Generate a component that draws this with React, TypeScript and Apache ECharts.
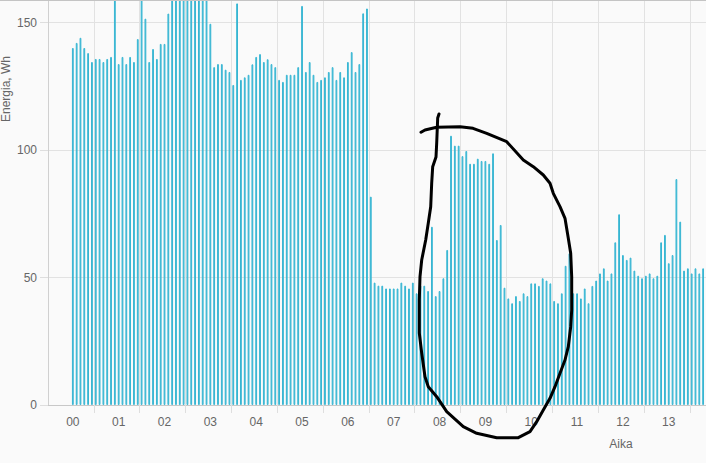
import React, { useEffect, useRef } from "react";
import * as echarts from "echarts";

// Energy per 5-minute slot, starting at 00:00
const energyWh: number[] = [
  // 00:00
  140, 142, 144, 140, 138, 134.5, 135.7, 135.7, 134.5, 135.7, 136.5, 168,
  // 01:00
  133.7, 136.5, 133.7, 136.5, 134.5, 143.5, 172, 151.5, 134.5, 139.6, 135.7, 141.6,
  // 02:00
  141.6, 153.5, 178, 186, 192, 184, 180, 188, 176, 183, 190, 175,
  // 03:00
  149.5, 132.5, 133.7, 133.7, 131.5, 130.6, 125.5, 157.5, 127.5, 128.5, 129.5, 133.6,
  // 04:00
  136.5, 137.6, 134.5, 135.6, 133.7, 132.5, 127.5, 126.7, 129.5, 129.5, 129.5, 132.5,
  // 05:00
  156.5, 130.6, 134.5, 129.5, 126.7, 127.5, 128.5, 130.6, 132.5, 127.5, 130.6, 128.5,
  // 06:00
  134.5, 138.4, 130.6, 133.7, 153.6, 155.5, 81.7, 48.0, 46.8, 46.8, 45.7, 45.7,
  // 07:00
  45.7, 45.7, 48.0, 46.8, 45.7, 48.0, 43.8, 46.8, 46.8, 44.7, 69.9, 42.7,
  // 08:00
  44.7, 49.7, 60.8, 105.6, 101.7, 101.7, 97.6, 99.6, 94.6, 94.6, 96.6, 95.7,
  // 09:00
  95.7, 94.6, 98.7, 64.7, 70.6, 46.0, 41.8, 39.9, 42.7, 40.8, 43.8, 42.7,
  // 10:00
  47.7, 47.7, 46.7, 49.7, 48.8, 47.7, 40.8, 39.9, 43.8, 54.6, 59.5, 43.8,
  // 11:00
  43.8, 41.8, 45.7, 39.9, 46.7, 48.8, 51.6, 53.6, 48.8, 51.6, 63.8, 74.8,
  // 12:00
  58.8, 56.9, 57.8, 52.7, 50.7, 49.7, 50.7, 51.6, 49.7, 50.7, 63.8, 66.7,
  // 13:00
  55.6, 58.8, 88.6, 71.9, 52.7, 53.6, 51.6, 53.6, 51.6, 53.6, 53.6, 53.0,
];

const hourLabels = [
  "00", "01", "02", "03", "04", "05", "06", "07", "08", "09", "10", "11",
  "12", "13", "14", "15", "16", "17", "18", "19", "20", "21", "22", "23", "24",
];
const minuteLabels = ["00", "05", "10", "15", "20", "25", "30", "35", "40", "45", "50", "55"];
const yTicks = { min: 0, max: 200, interval: 50 };
const lastVisibleHour = 13;
const lastVisibleYLabel = 150;
const yAxisTitle = "Energia, Wh";
const xAxisTitle = "Aika";

// slots: 23:30 (previous day) .. 24:25
const slots: string[] = [];
["30", "35", "40", "45", "50", "55"].forEach((m) => slots.push("23:" + m + "p"));
hourLabels.forEach((h) => minuteLabels.forEach((m) => slots.push(h + ":" + m)));
const slotsTrimmed = slots.slice(0, 300);
const firstDataSlot = 6;

// hand-drawn annotation loop (page pixels)
const annotation: number[][] = [
  [421, 132.3], [425, 130], [436.7, 127.3], [460, 126.7], [473, 128.3], [486.7, 133.3],
  [506.7, 141.7], [523.3, 160], [533.3, 166.7], [543.3, 175], [550, 183.3], [553.3, 193.3],
  [560, 206.7], [565, 218.3], [568.3, 238.3], [570.7, 253.3], [571.7, 276.7], [571.7, 310],
  [570.7, 326.7], [568.3, 346.7], [565, 360], [560, 373.3], [555, 386.7], [550, 398.3],
  [543.3, 410], [536.7, 421.7], [530, 431.7], [518.3, 437.7], [496.7, 437.7], [476.7, 433.3],
  [463.3, 426.7], [446.7, 411.7], [436.7, 396.7], [428.3, 386.7], [425, 376.7], [421.7, 353],
  [419.3, 333], [419.3, 300], [420, 276.7], [421.7, 260], [425.7, 240], [428.3, 223],
  [430.7, 206.7], [431.7, 183], [432.7, 166.7], [436, 157], [436.7, 143], [437.7, 118], [439, 114],
];

const PAGE_W = 706;
const PAGE_H = 463;
const SLOT_W = 45.84 / 12;
const ZERO_Y = 405;
const PX_PER_UNIT = 2.55;
const OFFSET_Y = yTicks.max * PX_PER_UNIT - ZERO_Y; // hidden part above page
const PLOT_LEFT = 48;
const PLOT_W = slotsTrimmed.length * SLOT_W;
const INNER_W = Math.ceil(PLOT_LEFT + PLOT_W + 10);
const INNER_H = PAGE_H + OFFSET_Y;

export default function App() {
  const ref = useRef<HTMLDivElement>(null);
  useEffect(() => {
    if (!ref.current) return;
    const chart = echarts.init(ref.current, undefined, { renderer: "svg" });
    const font = "Liberation Sans, Arial, sans-serif";
    chart.setOption({
      animation: false,
      backgroundColor: "#fafafa",
      grid: {
        left: PLOT_LEFT,
        top: 0,
        width: PLOT_W,
        height: yTicks.max * PX_PER_UNIT,
        containLabel: false,
      },
      xAxis: {
        type: "category",
        data: slotsTrimmed,
        boundaryGap: true,
        axisLine: { show: true, lineStyle: { color: "#c8c8c8", width: 1 } },
        axisTick: {
          show: true,
          length: 8,
          interval: (_i: number, v: string) => v.endsWith(":30"),
          lineStyle: { color: "#dedede" },
        },
        splitLine: {
          show: true,
          interval: (_i: number, v: string) => v.endsWith(":30"),
          lineStyle: { color: "#e2e2e2" },
        },
        axisLabel: {
          interval: (_i: number, v: string) =>
            v.endsWith(":00") && Number(v.slice(0, 2)) <= lastVisibleHour,
          formatter: (v: string) => v.slice(0, 2),
          color: "#666",
          fontSize: 12,
          fontFamily: font,
          margin: 11,
        },
      },
      yAxis: {
        type: "value",
        min: yTicks.min,
        max: yTicks.max,
        interval: yTicks.interval,
        axisLine: { show: true, lineStyle: { color: "#d0d0d0" } },
        axisTick: { show: true, length: 8, lineStyle: { color: "#dedede" } },
        splitLine: { show: true, lineStyle: { color: "#e2e2e2" } },
        axisLabel: {
          color: "#666",
          fontSize: 12,
          fontFamily: font,
          margin: 11,
          formatter: (v: number) => (v <= lastVisibleYLabel ? String(v) : ""),
        },
      },
      series: [
        {
          type: "bar",
          barWidth: 1.8,
          data: energyWh.map((v, i) => [i + firstDataSlot, v]),
          itemStyle: { color: "#7fd4e7", borderColor: "#36b5d2", borderWidth: 1 },
        },
      ],
      graphic: [
        {
          type: "line",
          shape: { x1: 0, y1: OFFSET_Y + 0.5, x2: PAGE_W, y2: OFFSET_Y + 0.5 },
          style: { stroke: "#c4c4c4", lineWidth: 1 },
          z: 50,
        },
        {
          type: "text",
          x: 6,
          y: OFFSET_Y + 89,
          rotation: Math.PI / 2,
          style: {
            text: yAxisTitle,
            fill: "#666",
            font: "12px " + font,
            align: "center",
            verticalAlign: "middle",
            textAlign: "center",
            textVerticalAlign: "middle",
          },
          z: 50,
        },
        {
          type: "text",
          x: 621,
          y: OFFSET_Y + 444,
          style: {
            text: xAxisTitle,
            fill: "#666",
            font: "12px " + font,
            align: "center",
            verticalAlign: "middle",
            textAlign: "center",
            textVerticalAlign: "middle",
          },
          z: 50,
        },
        {
          type: "polyline",
          shape: { points: annotation.map(([x, y]) => [x, y + OFFSET_Y]) },
          style: { stroke: "#000", lineWidth: 3, fill: null, lineJoin: "round", lineCap: "round" },
          z: 100,
        },
      ],
    });
    return () => chart.dispose();
  }, []);
  return (
    <div
      style={{
        position: "absolute",
        left: 0,
        top: 0,
        width: PAGE_W,
        height: PAGE_H,
        overflow: "hidden",
        background: "#fafafa",
      }}
    >
      <div
        ref={ref}
        style={{ position: "absolute", left: 0, top: -OFFSET_Y, width: INNER_W, height: INNER_H }}
      />
    </div>
  );
}
